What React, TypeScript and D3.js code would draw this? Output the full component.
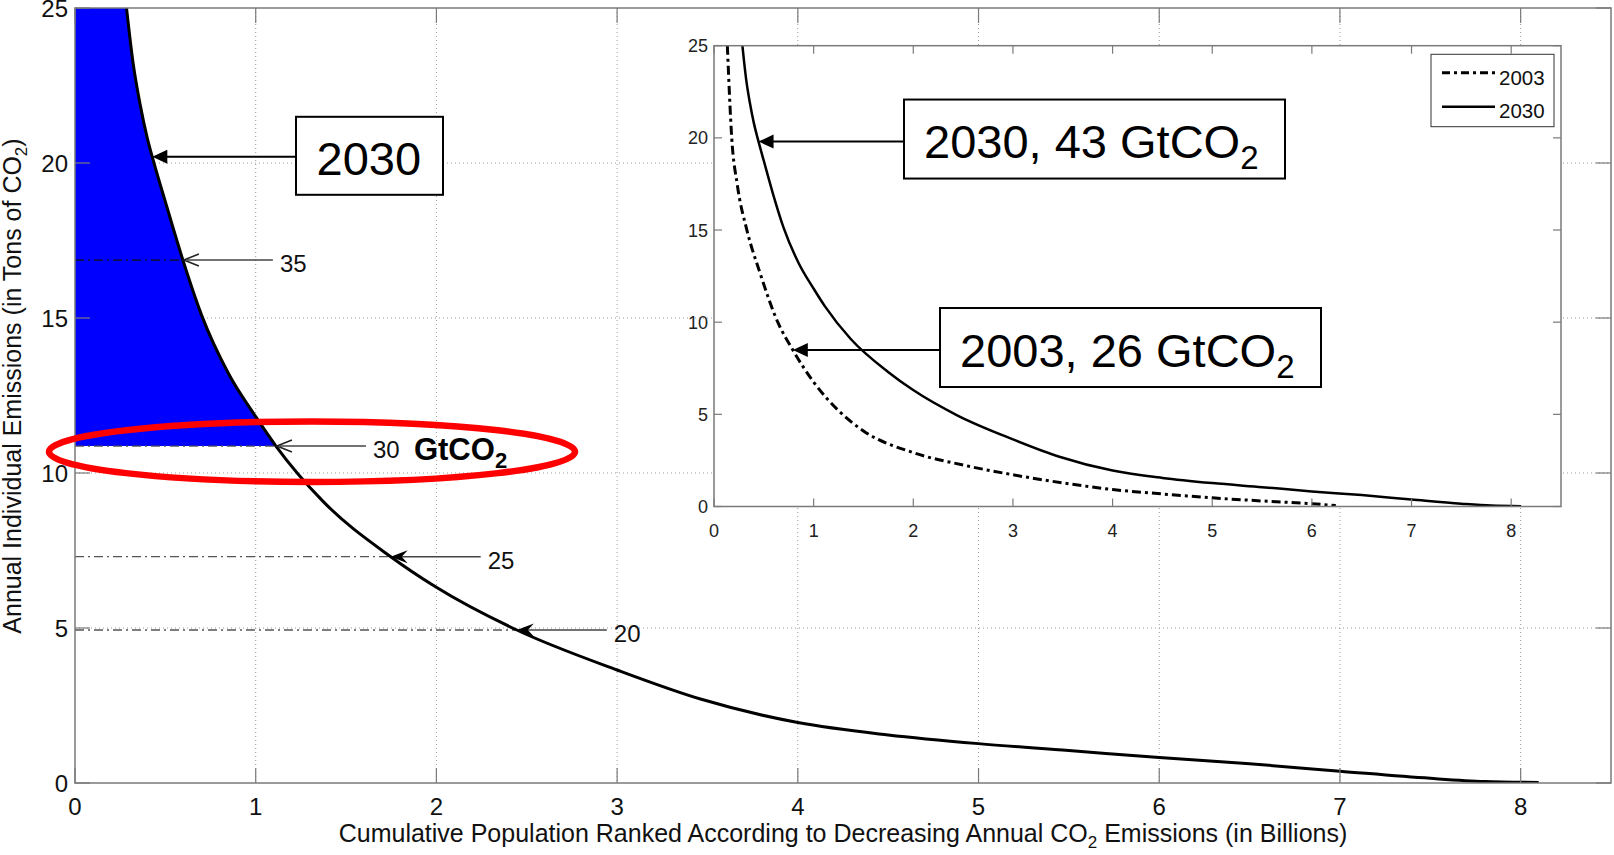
import React from "react";
import * as d3 from "d3";

const W = 1614;
const H = 855;
const FONT = "'Liberation Sans', Arial, Helvetica, sans-serif";

// Cumulative population (billions), ranked by decreasing per-capita emissions
const pop2030 = [0.285, 0.322, 0.36, 0.4, 0.437, 0.5, 0.597, 0.7, 0.85, 1.002, 1.112, 1.37, 1.747, 1.995, 2.445, 3.0, 3.466, 4.0, 4.5, 5.0, 5.5, 6.0, 6.5, 7.0, 7.5, 7.8, 8.1];
// Annual individual emissions (tons CO2) in 2030
const em2030 = [25, 23.2, 21.9, 20.8, 20, 18.75, 16.87, 15.1, 13.2, 11.8, 10.87, 9.1, 7.3, 6.33, 4.935, 3.645, 2.7, 1.95, 1.55, 1.27, 1.05, 0.82, 0.62, 0.38, 0.15, 0.05, 0.02];

const pop2003 = [0.134, 0.178, 0.234, 0.33, 0.46, 0.64, 0.79, 1.0, 1.25, 1.5, 2.0, 2.5, 3.0, 3.5, 4.0, 4.5, 5.0, 5.5, 6.0, 6.24];
const em2003 = [25, 20, 17.45, 15, 12.7, 10, 8.5, 6.75, 5.2, 4.1, 2.92, 2.25, 1.72, 1.28, 0.92, 0.68, 0.47, 0.3, 0.15, 0.05];

// Global totals (GtCO2) reached when individual emissions are capped at each level
const capTotals = ["35", "30", "25", "20"];
const capLevels = [16.87, 10.87, 7.3, 4.935];
const shadedCap = 10.87;

const xTicks = [0, 1, 2, 3, 4, 5, 6, 7, 8];
const yTicks = [0, 5, 10, 15, 20, 25];

const legendYears = ["2003", "2030"];
const insetYears = ["2030", "2003"];
const insetTotals = ["43", "26"];
const insetLevels = [19.8, 8.49];
const mainNoteLevel = 20.2;

type Pt = { x: number; y: number };

const toPts = (xs: number[], ys: number[]): Pt[] => xs.map((v, i) => ({ x: v, y: ys[i] }));

function xAtLevel(s: Pt[], lv: number): number {
  for (let i = 0; i < s.length - 1; i++) {
    if (s[i].y >= lv && s[i + 1].y <= lv) {
      const t = (s[i].y - lv) / (s[i].y - s[i + 1].y);
      return s[i].x + t * (s[i + 1].x - s[i].x);
    }
  }
  return s[s.length - 1].x;
}

export default function App() {
  const x = d3.scaleLinear().domain([0, 8.5]).range([75, 1611]);
  const y = d3.scaleLinear().domain([0, 25]).range([783, 8]);
  const xi = d3.scaleLinear().domain([0, 8.5]).range([714, 1561]);
  const yi = d3.scaleLinear().domain([0, 25]).range([506.5, 45.7]);

  const s2030 = toPts(pop2030, em2030);
  const s2003 = toPts(pop2003, em2003);

  const mainLine = d3.line<Pt>().x((d) => x(d.x)).y((d) => y(d.y)).curve(d3.curveMonotoneX);
  const insetLine = d3.line<Pt>().x((d) => xi(d.x)).y((d) => yi(d.y)).curve(d3.curveMonotoneX);

  const fillX = xAtLevel(s2030, shadedCap);
  const fillPts: Pt[] = [{ x: 0, y: 25 }, ...s2030.filter((d) => d.x < fillX), { x: fillX, y: shadedCap }];
  const area = d3
    .area<Pt>()
    .x((d) => x(d.x))
    .y0(y(shadedCap))
    .y1((d) => y(d.y))
    .curve(d3.curveMonotoneX);

  const [x0, x1] = x.range();
  const [y0, y1] = y.range();
  const [ix0, ix1] = xi.range();
  const [iy0, iy1] = yi.range();

  const gridColor = "#9a9a9a";
  const axisColor = "#7a7a7a";

  // main annotation arrow
  const mainNoteY = y(mainNoteLevel);
  const mainNoteX = x(xAtLevel(s2030, mainNoteLevel));

  const insetSeries = [s2030, s2003];
  const insetBoxLeft = [904, 940];

  return (
    <svg
      width={W}
      height={H}
      viewBox={`0 0 ${W} ${H}`}
      style={{ position: "absolute", left: 0, top: 0, background: "#fff" }}
      fontFamily={FONT}
    >
      <defs>
        <clipPath id="mainClip">
          <rect x={x0} y={y1} width={x1 - x0} height={y0 - y1} />
        </clipPath>
        <clipPath id="insetClip">
          <rect x={ix0} y={iy1} width={ix1 - ix0} height={iy0 - iy1} />
        </clipPath>
      </defs>
      <rect x={0} y={0} width={W} height={H} fill="#fff" />

      {/* grid */}
      <g stroke={gridColor} strokeWidth={1} strokeDasharray="1,3">
        {xTicks.filter((t) => t > 0).map((t) => (
          <line key={`gx${t}`} x1={x(t)} x2={x(t)} y1={y1} y2={y0} />
        ))}
        {yTicks.filter((t) => t > 0 && t < 25).map((t) => (
          <line key={`gy${t}`} x1={x0} x2={x1} y1={y(t)} y2={y(t)} />
        ))}
      </g>

      <g clipPath="url(#mainClip)">
        <path d={area(fillPts) || ""} fill="#0000ff" />
        {/* cap levels */}
        {capLevels.map((lv, i) => (
          <line
            key={`cap${i}`}
            x1={x0}
            x2={x(xAtLevel(s2030, lv))}
            y1={y(lv)}
            y2={y(lv)}
            stroke={lv > shadedCap ? "#111" : "#555"}
            strokeWidth={1.3}
            strokeDasharray="9,4,2,4"
          />
        ))}
        <path d={mainLine(s2030) || ""} fill="none" stroke="#000" strokeWidth={3} />
      </g>

      {/* main axes box and ticks */}
      <rect x={x0} y={y1} width={x1 - x0} height={y0 - y1} fill="none" stroke={axisColor} strokeWidth={1.5} />
      <g stroke={axisColor} strokeWidth={1.2}>
        {xTicks.map((t) => (
          <g key={`tx${t}`}>
            <line x1={x(t)} x2={x(t)} y1={y0} y2={y0 - 15} />
            <line x1={x(t)} x2={x(t)} y1={y1} y2={y1 + 15} />
          </g>
        ))}
        {yTicks.map((t) => (
          <g key={`ty${t}`}>
            <line x1={x0} x2={x0 + 15} y1={y(t)} y2={y(t)} />
            <line x1={x1} x2={x1 - 15} y1={y(t)} y2={y(t)} />
          </g>
        ))}
      </g>
      <g fontSize={24} fill="#111">
        {xTicks.map((t) => (
          <text key={`lx${t}`} x={x(t)} y={815} textAnchor="middle">
            {t}
          </text>
        ))}
        {yTicks.map((t) => (
          <text key={`ly${t}`} x={68} y={y(t) + 8.5} textAnchor="end">
            {t}
          </text>
        ))}
      </g>

      {/* axis titles */}
      <text x={(x0 + x1) / 2} y={842} fontSize={25} textAnchor="middle" fill="#111">
        Cumulative Population Ranked According to Decreasing Annual CO
        <tspan fontSize={17} dy={6}>2</tspan>
        <tspan dy={-6}> Emissions (in Billions)</tspan>
      </text>
      <text transform="translate(21,386) rotate(-90)" fontSize={25} textAnchor="middle" fill="#111">
        Annual Individual Emissions (in Tons of CO
        <tspan fontSize={17} dy={6}>2</tspan>
        <tspan dy={-6}>)</tspan>
      </text>

      {/* cap level arrows */}
      {capLevels.map((lv, i) => {
        const tx = x(xAtLevel(s2030, lv));
        const ty = y(lv);
        const filled = lv < shadedCap;
        return (
          <g key={`arr${i}`}>
            <line x1={tx + 4} x2={tx + 90} y1={ty} y2={ty} stroke="#444" strokeWidth={1.5} />
            {filled ? (
              <path d={`M${tx},${ty} L${tx + 17},${ty - 6.5} L${tx + 11},${ty} L${tx + 17},${ty + 6.5} Z`} fill="#000" />
            ) : (
              <path
                d={`M${tx + 16},${ty - 6} L${tx + 1},${ty} L${tx + 16},${ty + 6}`}
                fill="none"
                stroke="#222"
                strokeWidth={1.6}
              />
            )}
            <text x={tx + 97} y={ty + 12} fontSize={24} fill="#111">
              {capTotals[i]}
            </text>
            {lv === shadedCap && (
              <text x={tx + 138} y={ty + 14} fontSize={31} fontWeight="bold" fill="#000">
                GtCO<tspan fontSize={22} dy={8}>2</tspan>
              </text>
            )}
          </g>
        );
      })}

      {/* highlight around the 30 GtCO2 cap */}
      <ellipse cx={312} cy={451.7} rx={263} ry={30.3} fill="none" stroke="#ff0000" strokeWidth={6.5} />

      {/* 2030 label */}
      <g>
        <line x1={mainNoteX + 10} x2={296} y1={mainNoteY} y2={mainNoteY} stroke="#000" strokeWidth={2} />
        <path
          d={`M${mainNoteX},${mainNoteY} L${mainNoteX + 15},${mainNoteY - 7} L${mainNoteX + 15},${mainNoteY + 7} Z`}
          fill="#000"
        />
        <rect x={296} y={mainNoteY - 40} width={147} height={78} fill="#fff" stroke="#000" strokeWidth={2} />
        <text x={316.5} y={mainNoteY + 17.7} fontSize={47} fill="#000">
          2030
        </text>
      </g>

      {/* inset */}
      <g>
        <rect x={ix0} y={iy1} width={ix1 - ix0} height={iy0 - iy1} fill="#fff" />
        <g clipPath="url(#insetClip)">
          <path d={insetLine(s2003) || ""} fill="none" stroke="#000" strokeWidth={3} strokeDasharray="9,4,3,4" />
          <path d={insetLine(s2030) || ""} fill="none" stroke="#000" strokeWidth={2.5} />
        </g>
        <rect x={ix0} y={iy1} width={ix1 - ix0} height={iy0 - iy1} fill="none" stroke={axisColor} strokeWidth={1.5} />
        <g stroke={axisColor} strokeWidth={1.2}>
          {xTicks.map((t) => (
            <g key={`itx${t}`}>
              <line x1={xi(t)} x2={xi(t)} y1={iy0} y2={iy0 - 8} />
              <line x1={xi(t)} x2={xi(t)} y1={iy1} y2={iy1 + 8} />
            </g>
          ))}
          {yTicks.map((t) => (
            <g key={`ity${t}`}>
              <line x1={ix0} x2={ix0 + 8} y1={yi(t)} y2={yi(t)} />
              <line x1={ix1} x2={ix1 - 8} y1={yi(t)} y2={yi(t)} />
            </g>
          ))}
        </g>
        <g fontSize={18} fill="#222">
          {xTicks.map((t) => (
            <text key={`ilx${t}`} x={xi(t)} y={537} textAnchor="middle">
              {t}
            </text>
          ))}
          {yTicks.map((t) => (
            <text key={`ily${t}`} x={708} y={yi(t) + 6.5} textAnchor="end">
              {t}
            </text>
          ))}
        </g>

        {/* legend */}
        <rect x={1431} y={54.3} width={123} height={72.4} fill="#fff" stroke="#333" strokeWidth={1} />
        {legendYears.map((yr, i) => (
          <g key={`leg${yr}`}>
            <line
              x1={1442}
              x2={1495}
              y1={72.7 + i * 34}
              y2={72.7 + i * 34}
              stroke="#000"
              strokeWidth={i === 0 ? 3 : 2.5}
              strokeDasharray={i === 0 ? "8,4,3,4" : undefined}
            />
            <text x={1499} y={85 + i * 33.3} fontSize={20.5} fill="#111">
              {yr}
            </text>
          </g>
        ))}

        {/* totals per year */}
        {insetYears.map((yr, i) => {
          const s = insetSeries[i];
          const ty = yi(insetLevels[i]);
          const tx = xi(xAtLevel(s, insetLevels[i]));
          const bx = insetBoxLeft[i];
          return (
            <g key={`note${yr}`}>
              <line x1={tx + 10} x2={bx} y1={ty} y2={ty} stroke="#000" strokeWidth={2} />
              <path d={`M${tx},${ty} L${tx + 15},${ty - 7} L${tx + 15},${ty + 7} Z`} fill="#000" />
              <rect x={bx} y={ty - 42} width={381} height={79} fill="#fff" stroke="#000" strokeWidth={2} />
              <text x={bx + 20} y={ty + 16.6} fontSize={47} fill="#000">
                {yr}, {insetTotals[i]} GtCO<tspan fontSize={33} dy={11}>2</tspan>
              </text>
            </g>
          );
        })}
      </g>
    </svg>
  );
}
